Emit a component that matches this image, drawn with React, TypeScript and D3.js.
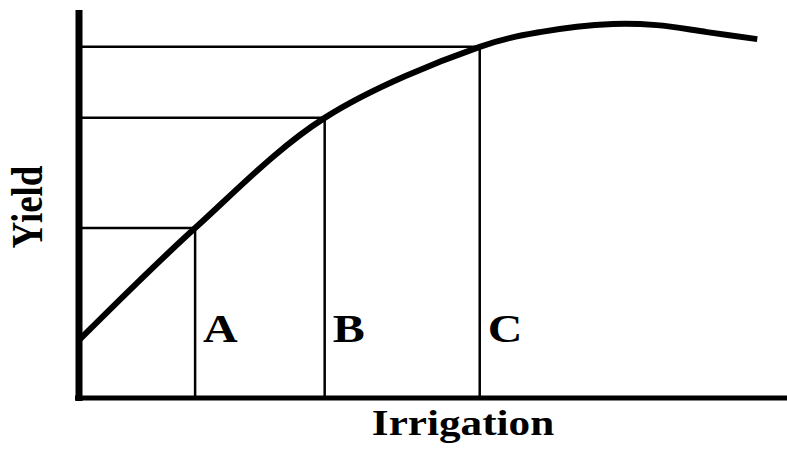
import React from 'react';
import * as d3 from 'd3';

// curve: irrigation (0-100) vs yield (0-100)
const irrigation = [0, 16.4, 34.7, 56.6, 65.1, 75.4, 81.6, 88.7, 95.8];
const yieldValues = [14.9, 43.8, 72.2, 90.5, 94.3, 96.4, 96.1, 94.3, 92.5];

// marked levels
const markLabels = ['A', 'B', 'C'];
const markIrrigation = [16.4, 34.7, 56.6];
const markYield = [43.8, 72.2, 90.5];

const W = 787;
const H = 449;

export default function App() {
  const x = d3.scaleLinear().domain([0, 100]).range([79, 787]);
  const y = d3.scaleLinear().domain([0, 100]).range([398, 10]);

  const line = d3
    .line<number>()
    .x((d, i) => x(irrigation[i]))
    .y(d => y(d))
    .curve(d3.curveCatmullRom.alpha(0.5));

  const font = '"Liberation Serif", "Times New Roman", serif';

  return (
    <svg
      width={W}
      height={H}
      style={{ position: 'absolute', left: 0, top: 0, background: '#fff' }}
    >
      {/* guide lines */}
      {markLabels.map((m, i) => (
        <g key={m} stroke="#000" strokeWidth={2.5}>
          <line x1={x(0)} x2={x(markIrrigation[i])} y1={y(markYield[i])} y2={y(markYield[i])} />
          <line x1={x(markIrrigation[i])} x2={x(markIrrigation[i])} y1={y(0)} y2={y(markYield[i])} />
        </g>
      ))}
      {markLabels.map((m, i) => (
        <text
          key={'t' + m}
          transform={`translate(${x(markIrrigation[i]) + 8},342) scale(1.2,1)`}
          fontFamily={font}
          fontWeight="bold"
          fontSize={40}
          fill="#000"
        >
          {m}
        </text>
      ))}

      {/* response curve */}
      <path d={line(yieldValues) || ''} fill="none" stroke="#000" strokeWidth={6} />

      {/* axes */}
      <line x1={x(0)} x2={x(0)} y1={y(100)} y2={y(0) + 3} stroke="#000" strokeWidth={7} />
      <line x1={x(0) - 4} x2={x(100)} y1={y(0)} y2={y(0)} stroke="#000" strokeWidth={5} />

      <text
        transform="translate(463,435) scale(1.2,1)"
        textAnchor="middle"
        fontFamily={font}
        fontWeight="bold"
        fontSize={36}
        fill="#000"
      >
        Irrigation
      </text>
      <text
        transform="translate(42,207) scale(1.2,1) rotate(-90)"
        textAnchor="middle"
        fontFamily={font}
        fontWeight="bold"
        fontSize={37}
        fill="#000"
      >
        Yield
      </text>
    </svg>
  );
}
